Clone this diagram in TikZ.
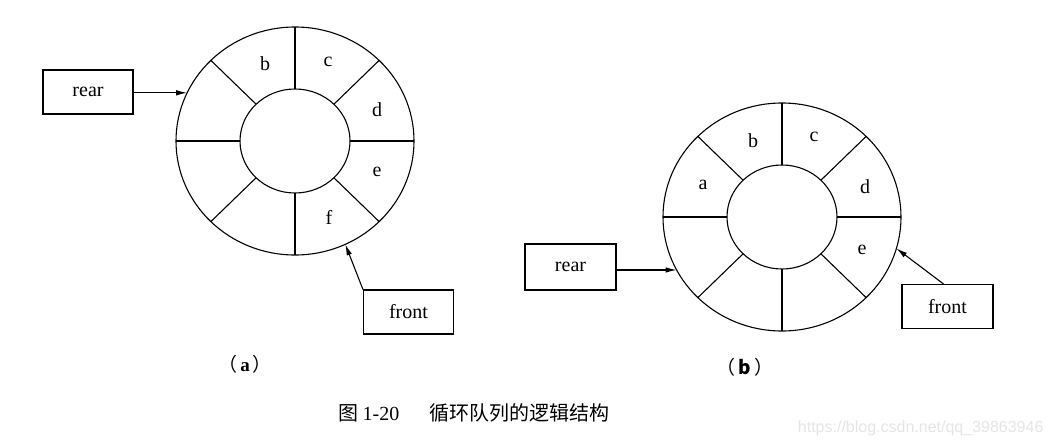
\documentclass[tikz,border=0pt]{standalone}
\usepackage{fontspec}
\setmainfont{Liberation Serif}
\newfontfamily\cjk{Noto Sans CJK SC}
\newfontfamily\wmfont{Liberation Sans}
\usetikzlibrary{arrows.meta}
\newcommand\myring[1]{%
  \draw (#1) ellipse [x radius=119pt, y radius=114pt];
  \draw (#1) ellipse [x radius=55pt, y radius=52pt];
  \foreach \a in {0,45,...,315}
    \draw ([shift={(\a:55 and 52)}]#1) -- ([shift={(\a:119 and 114)}]#1);
}
\begin{document}
\begin{tikzpicture}[x=1pt,y=-1pt,line width=1.1pt,
  box/.style={draw,minimum width=90pt,minimum height=44pt,inner sep=0pt,font=\fontsize{20}{20}\selectfont},
  lbl/.style={inner sep=0pt,font=\fontsize{20}{20}\selectfont},
  subcap/.style={inner sep=0pt,font=\fontsize{19}{19}\selectfont},
  ptr/.style={-{Latex[length=11pt,width=5.5pt]}}]
\useasboundingbox (0,0) rectangle (1052,447);
\fill[white] (0,0) rectangle (1052,447);

% ---------- (a) ----------
\coordinate (ca) at (295,141);
\myring{ca}
\node[lbl] (ab) at (265,64) {b};
\node[lbl] (ac) at (328,62) {c};
\node[lbl] (ad) at (377,110) {d};
\node[lbl] (ae) at (377,172) {e};
\node[lbl] (af) at (329,217) {f};
\node[box] (ra) at (88,92) {rear};
\node[box] (fa) at (408.5,312) {front};
\coordinate (rta) at ([shift={(-155:119 and 114)}]ca);
\coordinate (fta) at ([shift={(65:119 and 114)}]ca);
\draw[ptr] (ra.east |- rta) -- (rta);
\draw[ptr] (fa.north west) -- (fta);
\node[subcap] (capa) at (245,364) {{\cjk （}\hspace{3pt}\textbf{a}\hspace{3pt}{\cjk ）}};

% ---------- (b) ----------
\coordinate (cb) at (782,217);
\myring{cb}
\node[lbl] (ba) at (703,185) {a};
\node[lbl] (bb) at (753,141) {b};
\node[lbl] (bc) at (814,137) {c};
\node[lbl] (bd) at (865,187) {d};
\node[lbl] (be) at (862,250) {e};
\node[box,minimum height=46pt,minimum width=91pt] (rb) at (570.5,267) {rear};
\node[box,minimum width=91pt] (fb) at (947.5,306.5) {front};
\coordinate (rtb) at ([shift={(152.3:119 and 114)}]cb);
\coordinate (ftb) at ([shift={(16:119 and 114)}]cb);
\draw[ptr] (rb.east |- rtb) -- (rtb);
\draw[ptr] ([xshift=-4pt]fb.north) -- (ftb);
\node[subcap] (capb) at (745,367) {{\cjk （}\hspace{3pt}{\cjk\bfseries b}\hspace{3pt}{\cjk ）}};

% ---------- caption ----------
\node[inner sep=0pt,font=\fontsize{20}{20}\selectfont] (title) at (474,413)
  {{\cjk 图}\hspace{4pt}1-20\hspace{30pt}{\cjk 循环队列的逻辑结构}};
\node[inner sep=0pt,anchor=east,text=black!10,font=\wmfont\fontsize{16}{16}\selectfont] (wm) at (1044,428)
  {https://blog.csdn.net/qq\_39863946};
\end{tikzpicture}
\end{document}
